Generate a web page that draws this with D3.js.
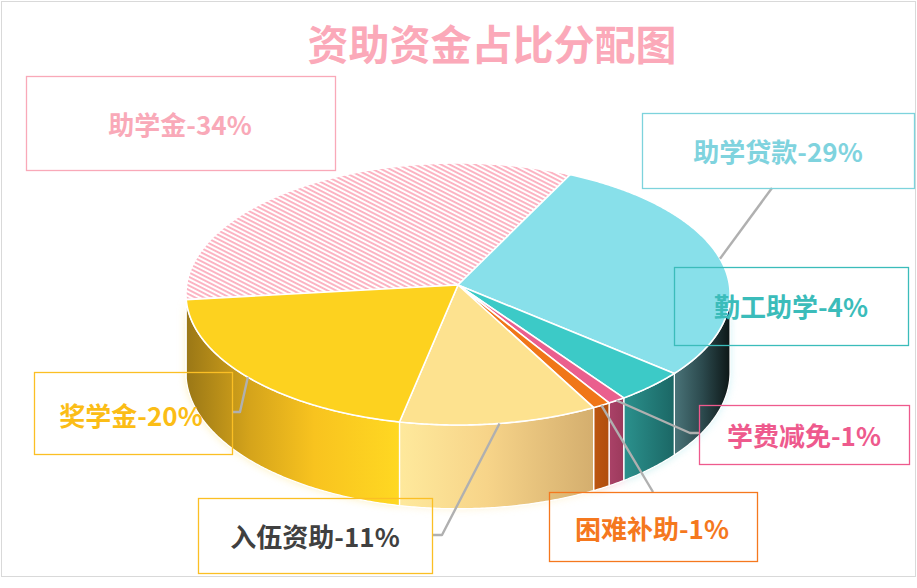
<!DOCTYPE html>
<html>
<head>
<meta charset="utf-8">
<script src="https://cdn.jsdelivr.net/npm/d3@7/dist/d3.min.js"></script>
<style>
  html, body { margin: 0; padding: 0; background: #fff; }
  svg { display: block; }
  text { font-family: "Noto Sans CJK SC", "Noto Sans", sans-serif; font-weight: bold; }
</style>
</head>
<body>
<svg id="chart" width="917" height="588"></svg>
<script>
// ---------- data ----------
const title = "资助资金占比分配图";
const categories = ["助学金", "助学贷款", "勤工助学", "学费减免", "困难补助", "入伍资助", "奖学金"];
const values = [34, 29, 4, 1, 1, 11, 20];
const labelTexts = categories.map((c, i) => `${c}-${values[i]}%`);

// ---------- styles ----------
const topColors = ["url(#hatch)", "#88e0ea", "#3ccac7", "#ea5f8e", "#f07618", "#fde28f", "#fdd21f"];
const glowColors = ["#fbb3c1", "#a6e8ef", "#8fe0de", "#f4a0bd", "#f7b07a", "#fdeab0", "#fde27a"];
const sideStops = [
  [["0", "#d98fa0"], ["1", "#e8a4b2"]],
  [["0", "#4a7479"], ["0.5", "#2c4a4e"], ["1", "#0d1717"]],
  [["0", "#2b918d"], ["1", "#1b6765"]],
  [["0", "#aa4268"], ["1", "#9c3a5c"]],
  [["0", "#bd5610"], ["1", "#b04e0c"]],
  [["0", "#fee99c"], ["0.45", "#f7d489"], ["1", "#d4ae6e"]],
  [["0", "#9a7716"], ["0.3", "#d5a41b"], ["0.6", "#f8c31f"], ["1", "#ffd822"]]
];
const labelColors = ["#f9a9b8", "#7fd3de", "#3bbcba", "#ee5a8d", "#f5781e", "#404040", "#fbbd16"];
const boxColors = ["#f9a9b8", "#7dd3dc", "#3bbcba", "#ee5a8d", "#f5781e", "#fbbf24", "#fbbf24"];
// label annotation layout: box [x0,y0,x1,y1], text centre, leader path after the anchor
const labelLayout = [
  { box: [26, 76, 335, 170], tc: [180, 123], leader: null },
  { box: [642, 113, 914, 188], tc: [778, 150], leader: [[772, 188]] },
  { box: [674, 267, 908, 345], tc: [791, 305], leader: null },
  { box: [699, 405, 909, 464], tc: [804, 434], leader: [[690, 433], [699, 433]] },
  { box: [549, 492, 757, 561], tc: [652, 527], leader: [[653, 492]] },
  { box: [198, 498, 432, 573], tc: [315, 535], leader: [[442, 535], [432, 535]] },
  { box: [34, 372, 232, 454], tc: [131, 414], leader: [[240, 412], [232, 412]] }
];

// ---------- geometry (perspective disc) ----------
const cx = 458, cy0 = 285;       // apex of the pie
const kx = 271.4, my = 130.4;    // horizontal / vertical radii
const e = 0.0687;                // perspective strength
const d0 = 78;                   // thickness
const startDeg = -96.4;

function proj(a, drop) {
  const X = Math.sin(a), Z = -Math.cos(a);
  const w = 1 - e * Z;
  return [cx + kx * X / w, cy0 + my * Z / w + (drop ? d0 / w : 0)];
}
function arcPts(a0, a1, drop) {
  const n = Math.max(2, Math.ceil(Math.abs(a1 - a0) / (Math.PI / 360)));
  return d3.range(n + 1).map(i => proj(a0 + (a1 - a0) * i / n, drop));
}

const svg = d3.select("#chart");
const defs = svg.append("defs");

// hatch pattern
const pat = defs.append("pattern").attr("id", "hatch")
  .attr("patternUnits", "userSpaceOnUse").attr("width", 12).attr("height", 3.9)
  .attr("patternTransform", "rotate(27)");
pat.append("rect").attr("width", 12).attr("height", 3.9).attr("fill", "#ffffff");
pat.append("rect").attr("y", 0).attr("width", 12).attr("height", 1.9).attr("fill", "#fcb2c1");

sideStops.forEach((stops, i) => {
  const g = defs.append("linearGradient").attr("id", "side" + i)
    .attr("x1", 0).attr("x2", 1).attr("y1", 0).attr("y2", 0);
  stops.forEach(s => g.append("stop").attr("offset", s[0]).attr("stop-color", s[1]));
});
const blur = defs.append("filter").attr("id", "blur").attr("x", "-20%").attr("y", "-20%")
  .attr("width", "140%").attr("height", "140%");
blur.append("feGaussianBlur").attr("stdDeviation", 4);

// frame
svg.append("rect").attr("x", 1.5).attr("y", 1.5).attr("width", 914).attr("height", 575)
  .attr("fill", "#fff").attr("stroke", "#d9d9d9").attr("stroke-width", 1);

// title
svg.append("text").attr("x", 492).attr("y", 42)
  .attr("text-anchor", "middle").attr("dominant-baseline", "central")
  .attr("font-size", 41).attr("fill", "#fba9b9").text(title);

// pie angles
const s0 = startDeg * Math.PI / 180;
const arcs = d3.pie().sort(null).value(d => d).startAngle(s0).endAngle(s0 + 2 * Math.PI)(values);

const line = d3.line();
const v0 = Math.acos(-e), v1 = 2 * Math.PI - Math.acos(-e);

function sidePieces(a0, a1) {
  const off = Math.floor(a0 / (2 * Math.PI)) * 2 * Math.PI;
  const b0 = a0 - off, b1 = a1 - off;
  const res = [];
  [[v0, v1], [v0 + 2 * Math.PI, v1 + 2 * Math.PI]].forEach(([lo, hi]) => {
    const s = Math.max(b0, lo), t = Math.min(b1, hi);
    if (t > s) res.push([s, t]);
  });
  return res;
}
function sidePath(s, t) {
  const top = arcPts(s, t, false), bot = arcPts(t, s, true);
  return line(top.concat(bot)) + "Z";
}

const pie = svg.append("g");

// glow
const glow = pie.append("g").attr("filter", "url(#blur)").attr("opacity", 0.55);
arcs.forEach((d, i) => {
  sidePieces(d.startAngle, d.endAngle).forEach(([s, t]) => {
    glow.append("path").attr("d", sidePath(s, t)).attr("fill", glowColors[i]);
  });
});

// sides
arcs.forEach((d, i) => {
  sidePieces(d.startAngle, d.endAngle).forEach(([s, t]) => {
    pie.append("path").attr("d", sidePath(s, t))
      .attr("fill", `url(#side${i})`)
      .attr("stroke", "#ffffff").attr("stroke-width", 1.3).attr("stroke-linejoin", "round");
  });
});

// tops
arcs.forEach((d, i) => {
  const pts = [[cx, cy0]].concat(arcPts(d.startAngle, d.endAngle, false));
  pie.append("path").attr("d", line(pts) + "Z")
    .attr("fill", topColors[i])
    .attr("stroke", "#ffffff").attr("stroke-width", 1.6).attr("stroke-linejoin", "round");
});

// labels
const lab = svg.append("g");
arcs.forEach((d, i) => {
  const L = labelLayout[i];
  if (L.leader) {
    const mid = (d.startAngle + d.endAngle) / 2;
    const pts = [proj(mid, false)].concat(L.leader);
    lab.append("path").attr("d", line(pts)).attr("fill", "none")
      .attr("stroke", "#b0b0b0").attr("stroke-width", 2.4).attr("stroke-linejoin", "round");
  }
});
arcs.forEach((d, i) => {
  const L = labelLayout[i];
  const [x0, y0, x1, y1] = L.box;
  lab.append("rect").attr("x", x0 + 0.5).attr("y", y0 + 0.5)
    .attr("width", x1 - x0).attr("height", y1 - y0)
    .attr("fill", "none").attr("stroke", boxColors[i]).attr("stroke-width", 1.3);
  lab.append("text").attr("x", L.tc[0]).attr("y", L.tc[1])
    .attr("text-anchor", "middle").attr("dominant-baseline", "central")
    .attr("font-size", 26).attr("fill", labelColors[i]).text(labelTexts[i]);
});
</script>
</body>
</html>
